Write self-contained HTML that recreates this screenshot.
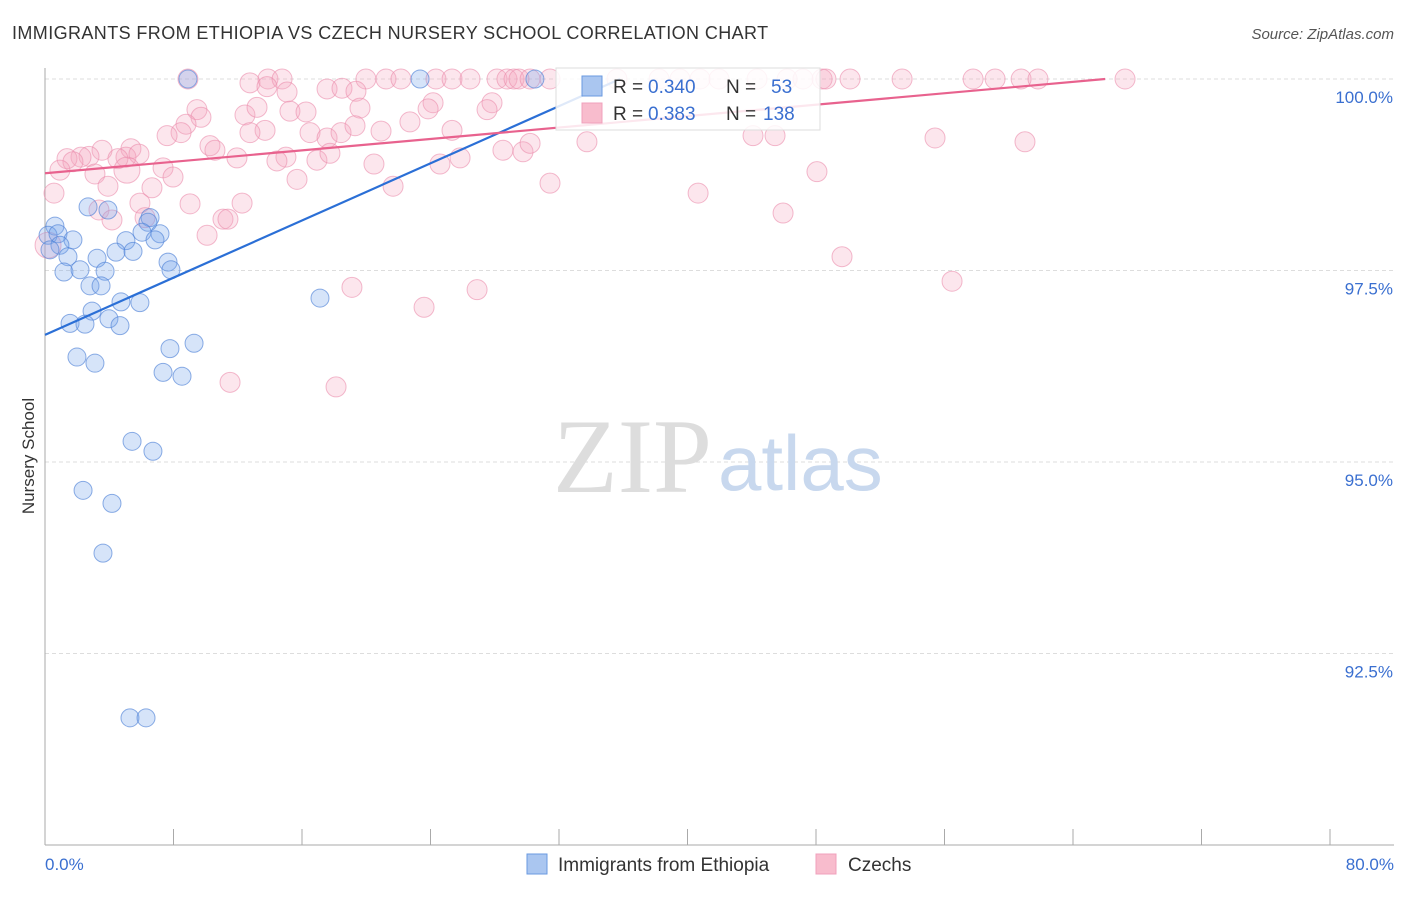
<!DOCTYPE html>
<html><head><meta charset="utf-8"><style>
body{margin:0;background:#fff;font-family:"Liberation Sans",sans-serif}
</style></head><body>
<svg id="c" width="1406" height="892" xmlns="http://www.w3.org/2000/svg" style="font-family:'Liberation Sans',sans-serif">
<text x="12" y="39" font-size="18" letter-spacing="0.4" fill="#333">IMMIGRANTS FROM ETHIOPIA VS CZECH NURSERY SCHOOL CORRELATION CHART</text>
<text x="1394" y="39" font-size="15" fill="#555" font-style="italic" text-anchor="end">Source: ZipAtlas.com</text>
<text x="0" y="0" transform="translate(34,456) rotate(-90)" font-size="17" fill="#333" text-anchor="middle">Nursery School</text>
<g id="grid"></g>
<text x="553" y="492" font-size="106" fill="#ddd" font-family="Liberation Serif">ZIP</text>
<text x="718" y="490" font-size="78" fill="#c8d8ee">atlas</text>
<g id="pts"></g>
<g id="lines"></g>
<g>
<rect x="556" y="68" width="264" height="62" fill="#fff" fill-opacity="0.85" stroke="#ddd"/>
<rect x="582" y="76" width="20" height="20" fill="#aac6f0" stroke="#6a9ae0"/>
<rect x="582" y="103" width="20" height="20" fill="#f8bccd" stroke="#f0a0bc"/>
<text x="613" y="93" font-size="19" fill="#333">R =</text>
<text x="648" y="93" font-size="19" fill="#3a6fd0">0.340</text>
<text x="726" y="93" font-size="19" fill="#333">N =</text>
<text x="771" y="93" font-size="19" fill="#3a6fd0">53</text>
<text x="613" y="120" font-size="19" fill="#333">R =</text>
<text x="648" y="120" font-size="19" fill="#3a6fd0">0.383</text>
<text x="726" y="120" font-size="19" fill="#333">N =</text>
<text x="763" y="120" font-size="19" fill="#3a6fd0">138</text>
</g>
<g>
<rect x="527" y="854" width="20" height="20" fill="#aac6f0" stroke="#6a9ae0"/>
<text x="558" y="871" font-size="19" fill="#333">Immigrants from Ethiopia</text>
<rect x="816" y="854" width="20" height="20" fill="#f8bccd" stroke="#f0a0bc"/>
<text x="848" y="871" font-size="19" fill="#333">Czechs</text>
</g>
</svg>
<script>
const xTicks=[0,8,16,24,32,40,48,56,64,72,80];
const yTicks=[100,97.5,95,92.5];
const yTickLabels=["100.0%","97.5%","95.0%","92.5%"];
const blueX=[8.9,23.35,30.5,0.62,0.19,0.81,1.74,0.93,0.31,2.68,3.92,6.54,6.41,6.04,7.16,6.85,5.04,4.42,5.48,1.43,3.24,7.66,7.84,1.18,2.18,3.74,2.8,3.49,4.73,5.91,2.93,1.56,2.49,3.98,4.67,17.12,9.28,7.78,1.99,3.11,7.35,8.53,5.42,6.72,2.37,4.17,3.61,5.29,6.29];
const blueY=[100,100,100,98.08,97.96,97.98,97.9,97.83,97.77,98.33,98.29,98.19,98.13,98.0,97.98,97.9,97.89,97.74,97.75,97.68,97.66,97.61,97.51,97.48,97.51,97.49,97.3,97.3,97.09,97.08,96.97,96.81,96.8,96.87,96.78,97.14,96.55,96.48,96.37,96.29,96.17,96.12,95.27,95.14,94.63,94.46,93.81,91.66,91.66];
const pinkX=[8.9,13.88,14.76,19.98,21.23,22.16,24.34,25.34,26.46,28.14,28.76,29.2,29.51,30.2,31.44,35.61,38.23,39.53,40.78,41.96,44.33,46.2,47.19,48.38,48.62,50.12,53.36,57.78,59.15,60.77,61.82,67.24,
12.76,13.82,15.07,17.56,18.49,19.36,24.16,23.85,9.46,12.45,13.2,15.25,16.25,19.61,22.72,25.34,27.83,27.52,9.71,8.78,8.47,7.6,13.7,12.76,16.5,17.56,18.43,19.3,20.92,3.55,2.74,2.24,1.37,1.74,0.93,5.35,5.04,4.54,5.85,10.27,10.58,11.95,15.0,14.44,16.93,17.74,20.48,24.59,25.84,28.51,29.76,30.2,33.74,44.08,45.45,55.41,61.01,0.56,3.11,3.92,5.1,7.35,7.97,6.66,15.69,21.67,31.44,40.66,48.06,5.91,9.03,12.27,3.36,4.17,6.23,11.08,11.39,10.09,45.95,49.62,56.47,19.11,26.9,23.6,11.52,18.12,0.19];
const pinkY=[100,100,100,100,100,100,100,100,100,100,100,100,100,100,100,100,100,100,100,100,100,100,100,100,100,100,100,100,100,100,100,100,
99.95,99.9,99.83,99.87,99.88,99.84,99.69,99.61,99.6,99.53,99.63,99.58,99.57,99.62,99.44,99.33,99.69,99.6,99.5,99.41,99.3,99.26,99.33,99.3,99.3,99.23,99.3,99.39,99.32,99.07,98.99,98.98,98.96,98.92,98.81,99.09,98.98,98.96,99.02,99.13,99.07,98.97,98.98,98.93,98.94,99.03,98.89,98.89,98.97,99.07,99.05,99.16,99.18,99.26,99.26,99.23,99.18,98.51,98.76,98.6,98.81,98.84,98.72,98.58,98.69,98.6,98.64,98.51,98.79,98.38,98.37,98.38,98.29,98.16,98.19,98.17,98.17,97.96,98.25,97.68,97.36,97.28,97.25,97.02,96.04,95.98,97.83];
const blueTrend=[0,96.66,35.8,100];
const pinkTrend=[0,98.77,66,100];
const NS="http://www.w3.org/2000/svg";
const X=v=>45+v/80*1285, Y=v=>79+(100-v)/2.5*191.5;
function mk(t,a,p){const e=document.createElementNS(NS,t);for(const k in a)e.setAttribute(k,a[k]);p.appendChild(e);return e;}
const g=document.getElementById('grid');
yTicks.forEach((t,i)=>{
 const l=mk('line',{x1:45,x2:1394,y1:Y(t),y2:Y(t),stroke:'#ddd','stroke-dasharray':'4,3'},g);
 
 
 const tx=mk('text',{x:1393,y:Y(t)+24,'font-size':17,fill:'#3a6fd0','text-anchor':'end'},g);
 tx.textContent=yTickLabels[i];
 
 
});
const ax=mk('line',{x1:45,x2:45,y1:68,y2:845,stroke:'#aaa'},g);


const bx=mk('line',{x1:45,x2:1394,y1:845,y2:845,stroke:'#aaa'},g);


xTicks.forEach(t=>{
 const l=mk('line',{x1:X(t),x2:X(t),y1:829,y2:845,stroke:'#aaa'},g);
 
 
});
[[0,'0.0%','start',45],[80,'80.0%','end',1394]].forEach(d=>{
 const tx=mk('text',{x:d[3],y:870,'font-size':17,fill:'#3a6fd0','text-anchor':d[2]},g);
 tx.textContent=d[1];
 
 
});
const p=document.getElementById('pts');
pinkX.forEach((v,i)=>{
 const c=mk('circle',{cx:X(v),cy:Y(pinkY[i]),r:(i==92||i==pinkX.length-1)?13:10,fill:'rgba(245,165,192,0.28)',stroke:'rgba(235,140,172,0.6)','stroke-width':1},p);
 
 
});
blueX.forEach((v,i)=>{
 const c=mk('circle',{cx:X(v),cy:Y(blueY[i]),r:9,fill:'rgba(120,165,235,0.3)',stroke:'rgba(80,130,215,0.65)','stroke-width':1},p);
 
 
});
const L=document.getElementById('lines');
const bl=mk('line',{x1:X(blueTrend[0]),y1:Y(blueTrend[1]),x2:X(blueTrend[2]),y2:Y(blueTrend[3]),stroke:'#2b6fd6','stroke-width':2.2},L);


const pl=mk('line',{x1:X(pinkTrend[0]),y1:Y(pinkTrend[1]),x2:X(pinkTrend[2]),y2:Y(pinkTrend[3]),stroke:'#e8628e','stroke-width':2.2},L);


</script>
</body></html>
